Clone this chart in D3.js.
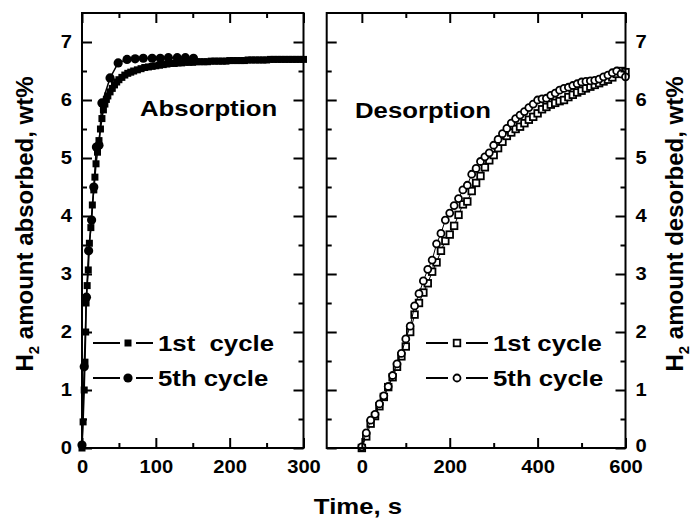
<!DOCTYPE html>
<html>
<head>
<meta charset="utf-8">
<script src="https://cdn.jsdelivr.net/npm/d3@7"></script>
<style>
  html, body { margin: 0; padding: 0; background: #fff; }
  svg text { font-family: "Liberation Sans", Arial, sans-serif; font-weight: bold; fill: #000; }
</style>
</head>
<body>
<svg id="chart" width="694" height="524"></svg>
<script>
// ---------- DATA ----------
// Absorption, 1st cycle (filled squares): [time s, wt%]
const absTime1 = [0,1.5,3,4,5,5.5,7,8.5,10,12,14,16,17.5,19,21,23,25,27,29,31,33,35,38,41,44,47,50,54,58,62,66,70,75,80,85,90,95,100,105,110,115,120,125,130,135,140,145,150,155,160,165,170,175,180,185,190,195,200,205,210,215,220,225,230,235,240,245,250,255,260,265,270,275,280,285,290,295,300];
const absVal1  = [0,0.45,1.0,1.48,2.0,2.5,2.8,3.07,3.53,3.8,4.19,4.45,4.67,4.9,5.1,5.3,5.5,5.68,5.83,5.93,6.01,6.07,6.14,6.2,6.26,6.31,6.35,6.39,6.43,6.46,6.48,6.5,6.52,6.54,6.56,6.57,6.58,6.59,6.6,6.61,6.62,6.63,6.63,6.64,6.64,6.65,6.65,6.65,6.66,6.66,6.66,6.66,6.67,6.67,6.67,6.67,6.67,6.68,6.68,6.68,6.68,6.68,6.69,6.69,6.69,6.69,6.69,6.69,6.7,6.7,6.7,6.7,6.7,6.7,6.7,6.7,6.7,6.7];
// Absorption, 5th cycle (filled circles)
const absTime5 = [0,3,6,9,13,16,19.5,23,27,38,49,61,72,83,95,106,117,129,140,151];
const absVal5  = [0.05,1.4,2.6,3.4,3.93,4.5,5.19,5.22,5.95,6.38,6.64,6.70,6.71,6.72,6.72,6.72,6.73,6.73,6.73,6.72];
// Desorption, both cycles sampled every 10 s
const desTime = [0,10,20,30,40,50,60,70,80,90,100,110,120,130,140,150,160,170,180,190,200,210,220,230,240,250,260,270,280,290,300,310,320,330,340,350,360,370,380,390,400,410,420,430,440,450,460,470,480,490,500,510,520,530,540,550,560,570,580,590,600];
const desVal1  = [0,0.2,0.42,0.55,0.72,0.88,1.05,1.22,1.4,1.58,1.75,2.0,2.3,2.5,2.68,2.84,3.04,3.2,3.4,3.57,3.68,3.83,4.02,4.2,4.25,4.43,4.57,4.69,4.84,4.96,5.05,5.17,5.28,5.38,5.44,5.5,5.54,5.6,5.66,5.71,5.77,5.84,5.88,5.92,5.95,5.98,6.0,6.05,6.09,6.13,6.16,6.2,6.23,6.26,6.29,6.32,6.35,6.39,6.45,6.5,6.48];
const desVal5  = [0.02,0.26,0.48,0.58,0.76,0.9,1.06,1.25,1.45,1.63,1.88,2.1,2.45,2.66,2.88,3.08,3.24,3.52,3.7,3.93,4.05,4.18,4.3,4.45,4.53,4.72,4.82,4.94,5.02,5.09,5.22,5.32,5.42,5.51,5.6,5.68,5.74,5.8,5.87,5.93,6.0,6.02,6.03,6.08,6.12,6.17,6.2,6.22,6.25,6.28,6.31,6.32,6.33,6.34,6.36,6.4,6.43,6.47,6.5,6.45,6.4];

const yTicks = [0,1,2,3,4,5,6,7];
const yMinor = [0.5,1.5,2.5,3.5,4.5,5.5,6.5];
const xTicksL = [0,100,200,300];
const xMinorL = [50,150,250];
const xTicksR = [0,200,400,600];
const xMinorR = [100,300,500];
const legendLabels = ["1st  cycle", "5th cycle", "1st cycle"];
const panelTitles = ["Absorption", "Desorption"];
const yTitleL = ["H", "2", " amount absorbed, wt%"];
const yTitleR = ["H", "2", " amount desorbed, wt%"];
const xTitle = "Time, s";

// ---------- LAYOUT ----------
const svg = d3.select("#chart");
const SX = 1.12; // horizontal text stretch seen in the figure
const plotTop = 13, plotBot = 448;
const y = d3.scaleLinear().domain([0, 7.5]).range([plotBot, plotTop]);
const xL = d3.scaleLinear().domain([0, 300]).range([82, 303.5]);
const xR = d3.scaleLinear().domain([-80, 600]).range([326.7, 625.5]);

function stretchText(sel) {
  sel.selectAll("text").attr("transform", `scale(${SX},1)`);
}
function styleAxis(g) {
  g.select(".domain").remove();
  g.selectAll("line").attr("stroke", "#000").attr("stroke-width", 2);
  g.selectAll("text").attr("font-size", 18).attr("fill", "#000");
}

function drawFrame(x, labelSide, xt, xm) {
  const x0 = x.range()[0], x1 = x.range()[1];
  svg.append("g").attr("transform", `translate(0,${plotBot})`)
    .call(d3.axisBottom(x).tickValues(xt).tickSize(-10).tickPadding(12).tickFormat(d3.format("d")))
    .call(styleAxis).call(stretchText);
  svg.append("g").attr("transform", `translate(0,${plotBot})`)
    .call(d3.axisBottom(x).tickValues(xm).tickSize(-5).tickFormat(""))
    .call(styleAxis);
  svg.append("g").attr("transform", `translate(0,${plotTop})`)
    .call(d3.axisTop(x).tickValues(xt).tickSize(-10).tickFormat(""))
    .call(styleAxis);
  svg.append("g").attr("transform", `translate(0,${plotTop})`)
    .call(d3.axisTop(x).tickValues(xm).tickSize(-5).tickFormat(""))
    .call(styleAxis);
  svg.append("g").attr("transform", `translate(${x0},0)`)
    .call(d3.axisLeft(y).tickValues(yTicks).tickSize(-10).tickPadding(9)
      .tickFormat(labelSide === "left" ? d3.format("d") : ""))
    .call(styleAxis).call(stretchText);
  svg.append("g").attr("transform", `translate(${x0},0)`)
    .call(d3.axisLeft(y).tickValues(yMinor).tickSize(-5).tickFormat(""))
    .call(styleAxis);
  svg.append("g").attr("transform", `translate(${x1},0)`)
    .call(d3.axisRight(y).tickValues(yTicks).tickSize(-10).tickPadding(9)
      .tickFormat(labelSide === "right" ? d3.format("d") : ""))
    .call(styleAxis).call(stretchText)
    .call(g => g.selectAll("text").filter(d => d === 0).attr("dy", "0.18em"));
  svg.append("g").attr("transform", `translate(${x1},0)`)
    .call(d3.axisRight(y).tickValues(yMinor).tickSize(-5).tickFormat(""))
    .call(styleAxis);
  svg.append("rect").attr("x", x0).attr("y", plotTop).attr("width", x1 - x0).attr("height", plotBot - plotTop)
    .attr("fill", "none").attr("stroke", "#000").attr("stroke-width", 2);
}

// ---------- DATA MARKS ----------
function series(x, times, vals, lineW) {
  const pts = times.map((t, i) => [t, vals[i]]);
  svg.append("path").datum(pts)
    .attr("d", d3.line().x(d => x(d[0])).y(d => y(d[1])))
    .attr("fill", "none").attr("stroke", "#000").attr("stroke-width", lineW);
  return pts;
}

const a1 = series(xL, absTime1, absVal1, 1.5);
svg.append("g").selectAll("rect").data(a1).join("rect")
  .attr("x", d => xL(d[0]) - 3.5).attr("y", d => y(d[1]) - 3.5)
  .attr("width", 7).attr("height", 7).attr("fill", "#000");
const a5 = series(xL, absTime5, absVal5, 1.5);
svg.append("g").selectAll("circle").data(a5).join("circle")
  .attr("cx", d => xL(d[0])).attr("cy", d => y(d[1])).attr("r", 4.6).attr("fill", "#000");

const d1 = series(xR, desTime, desVal1, 1);
svg.append("g").selectAll("rect").data(d1).join("rect")
  .attr("x", d => xR(d[0]) - 3.3).attr("y", d => y(d[1]) - 3.3)
  .attr("width", 6.6).attr("height", 6.6).attr("fill", "#fff").attr("stroke", "#000").attr("stroke-width", 1.8);
const d5 = series(xR, desTime, desVal5, 1);
svg.append("g").selectAll("circle").data(d5).join("circle")
  .attr("cx", d => xR(d[0])).attr("cy", d => y(d[1])).attr("r", 3.5)
  .attr("fill", "#fff").attr("stroke", "#000").attr("stroke-width", 1.8);

drawFrame(xL, "left", xTicksL, xMinorL);
drawFrame(xR, "right", xTicksR, xMinorR);

// ---------- LEGENDS ----------
function legend(x0, xm, x1, gap, rows, filled) {
  rows.forEach((r, i) => {
    const g = svg.append("g");
    g.append("line").attr("x1", x0).attr("x2", xm - gap).attr("y1", r.y).attr("y2", r.y)
      .attr("stroke", "#000").attr("stroke-width", 2);
    g.append("line").attr("x1", xm + gap).attr("x2", x1).attr("y1", r.y).attr("y2", r.y)
      .attr("stroke", "#000").attr("stroke-width", 2);
    if (i === 0) {
      const s = filled ? 7 : 6.6;
      g.append("rect").attr("x", xm - s / 2).attr("y", r.y - s / 2).attr("width", s).attr("height", s)
        .attr("fill", filled ? "#000" : "#fff").attr("stroke", "#000").attr("stroke-width", filled ? 0 : 1.8);
    } else {
      g.append("circle").attr("cx", xm).attr("cy", r.y).attr("r", filled ? 4.6 : 3.5)
        .attr("fill", filled ? "#000" : "#fff").attr("stroke", "#000").attr("stroke-width", filled ? 0 : 1.8);
    }
    g.append("text").attr("transform", `translate(${x1 + 5},${r.y + 8}) scale(${SX},1)`)
      .attr("font-size", 23).style("white-space", "pre").text(r.label);
  });
}
legend(93, 128, 153, 8, [{y: 343, label: legendLabels[0]}, {y: 378, label: legendLabels[1]}], true);
legend(426, 457, 488, 9, [{y: 343, label: legendLabels[2]}, {y: 378, label: legendLabels[1]}], false);

// ---------- TITLES ----------
svg.append("text").attr("transform", `translate(140,116) scale(${SX},1)`).attr("font-size", 23).text(panelTitles[0]);
svg.append("text").attr("transform", `translate(355,118) scale(${SX},1)`).attr("font-size", 23).text(panelTitles[1]);

svg.append("text").attr("text-anchor", "middle")
  .attr("transform", `translate(358,514) scale(${SX},1)`).attr("font-size", 23).text(xTitle);

function yTitle(x, parts) {
  const t = svg.append("text").attr("text-anchor", "middle")
    .attr("transform", `translate(${x},224) rotate(-90)`).attr("font-size", 24);
  t.append("tspan").text(parts[0]);
  t.append("tspan").attr("font-size", 15).attr("dy", 6).text(parts[1]);
  t.append("tspan").attr("dy", -6).text(parts[2]);
}
yTitle(33, yTitleL);
yTitle(683, yTitleR);
</script>
</body>
</html>
